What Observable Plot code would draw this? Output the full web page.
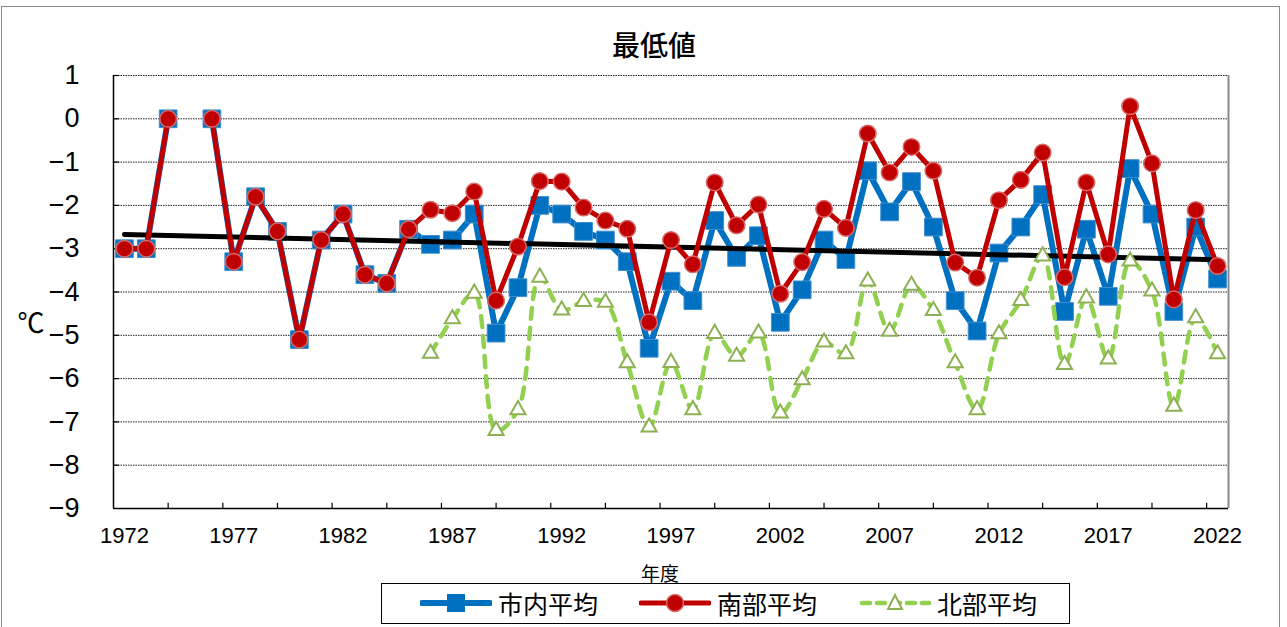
<!DOCTYPE html>
<html><head><meta charset="utf-8">
<script src="https://cdn.jsdelivr.net/npm/d3@7"></script>
<script src="https://cdn.jsdelivr.net/npm/@observablehq/plot@0.6"></script>
<style>
  html,body{margin:0;padding:0;background:#fff;}
  #wrap{position:relative;width:1287px;height:627px;overflow:hidden;font-family:"Noto Sans CJK JP","Liberation Sans",sans-serif;}
  #frame{position:absolute;left:1px;top:6px;width:1279px;height:700px;border:1.5px solid #8a8a8a;box-sizing:border-box;}
  #plot{position:absolute;left:0;top:0;}
  .abs{position:absolute;white-space:nowrap;color:#000;}
  #title{left:654px;top:44px;transform:translate(-50%,-50%);font-size:28px;font-weight:500;}
  #ylab{left:31px;top:321px;transform:translate(-50%,-50%);font-size:27px;font-family:"Noto Sans CJK JP",sans-serif;}
  #xlab{left:660px;top:572px;transform:translate(-50%,-50%);font-size:19px;}
  #legend{left:381px;top:583px;width:689px;height:41px;border:1.5px solid #000;box-sizing:border-box;display:flex;align-items:center;}
  .item{position:absolute;top:0;height:38px;display:flex;align-items:center;font-size:25px;}
  .item svg{margin-right:6px;}
</style></head>
<body>
<div id="wrap">
  <div id="frame"></div>
  <div id="plot"></div>
  <div id="title" class="abs">最低値</div>
  <div id="ylab" class="abs">℃</div>
  <div id="xlab" class="abs">年度</div>
  <div id="legend" class="abs"></div>
</div>
<script>
// ---- data ----
const years = d3.range(1972, 2023);
const cityAvg = [-3.0,-3.0,0.0,null,0.0,-3.3,-1.8,-2.6,-5.1,-2.8,-2.2,-3.6,-3.8,-2.55,-2.9,-2.8,-2.2,-4.95,-3.9,-2.0,-2.2,-2.6,-2.8,-3.3,-5.3,-3.75,-4.2,-2.35,-3.2,-2.7,-4.7,-3.95,-2.8,-3.25,-1.2,-2.15,-1.45,-2.5,-4.2,-4.9,-3.1,-2.5,-1.75,-4.45,-2.55,-4.1,-1.15,-2.2,-4.45,-2.5,-3.7];
const southAvg = [-3.0,-3.0,0.0,null,0.0,-3.3,-1.8,-2.6,-5.1,-2.8,-2.2,-3.6,-3.8,-2.55,-2.1,-2.18,-1.68,-4.2,-2.95,-1.44,-1.45,-2.05,-2.35,-2.54,-4.7,-2.8,-3.36,-1.47,-2.46,-1.98,-4.04,-3.31,-2.08,-2.52,-0.34,-1.24,-0.65,-1.2,-3.32,-3.67,-1.88,-1.41,-0.78,-3.66,-1.47,-3.13,0.29,-1.03,-4.17,-2.11,-3.4];
const northAvg = [null,null,null,null,null,null,null,null,null,null,null,null,null,null,-5.42,-4.62,-4.03,-7.2,-6.72,-3.66,-4.42,-4.22,-4.24,-5.64,-7.12,-5.63,-6.72,-4.96,-5.49,-4.95,-6.8,-6.03,-5.16,-5.43,-3.75,-4.91,-3.85,-4.43,-5.64,-6.72,-4.97,-4.2,-3.17,-5.68,-4.14,-5.55,-3.29,-3.98,-6.64,-4.6,-5.43];
const seriesNames = ["市内平均","南部平均","北部平均"];
const xTickLabels = [1972,1977,1982,1987,1992,1997,2002,2007,2012,2017,2022];
const yTickValues = [1,0,-1,-2,-3,-4,-5,-6,-7,-8,-9];

// ---- styles ----
const C_BLUE = "#0070C0", C_RED = "#C00000", C_GREEN = "#92D050", C_GREEN_EDGE = "#8DB152";

const city = years.map((y,i)=>({year:y, v:cityAvg[i]}));
const south = years.map((y,i)=>({year:y, v:southAvg[i]}));
const north = years.map((y,i)=>({year:y, v:northAvg[i]}));
const cityDef = city.filter(d=>d.v!=null);
const southDef = south.filter(d=>d.v!=null);
const northDef = north.filter(d=>d.v!=null);

const xMin = 1971.5, xMax = 2022.5;
const xMinorTicks = d3.range(xMin + 2.5, xMax, 2.5);

const chart = Plot.plot({
  width: 1287, height: 627,
  marginLeft: 113, marginRight: 59, marginTop: 75, marginBottom: 119,
  style: {fontFamily: "'Liberation Sans', Arial, sans-serif", background: "transparent", overflow: "visible"},
  x: {domain: [xMin, xMax]},
  y: {domain: [-9, 1]},
  marks: [
    Plot.ruleY(yTickValues.filter(v=>v>-9), {y: d=>d, stroke: "#222", strokeWidth: 1, strokeDasharray: "1.5,1"}),
    Plot.ruleX([xMax], {stroke: "#8a8a8a", strokeWidth: 2}),
    Plot.axisY({ticks: yTickValues, tickSize: 0, tickPadding: 34, fontSize: 27, tickFormat: d=>d3.format("")(d).replace("-","−"), label: null}),
    Plot.axisX({ticks: xTickLabels, tickSize: 0, tickPadding: 19, fontSize: 22, tickFormat: d=>String(d), label: null}),
    Plot.ruleX(xMinorTicks, {x: d=>d, y1: -9, y2: -8.88, stroke: "#000", strokeWidth: 1.2}),
    Plot.ruleY(yTickValues.filter(v=>v>-9), {y: d=>d, x1: xMin, x2: xMin + 0.27, stroke: "#000", strokeWidth: 1.2}),
    Plot.ruleX([xMin], {stroke: "#000", strokeWidth: 1.5}),
    Plot.ruleY([-9], {stroke: "#000", strokeWidth: 1.5}),
    // 市内平均
    Plot.line(city, {x: "year", y: "v", stroke: C_BLUE, strokeWidth: 6}),
    Plot.dot(cityDef, {x: "year", y: "v", symbol: "square", r: 10, fill: C_BLUE, stroke: "#3f8fd0", strokeWidth: 1}),
    // trend
    Plot.linearRegressionY(cityDef, {x: "year", y: "v", ci: 0, stroke: "#000", strokeWidth: 5}),
    // 南部平均
    Plot.line(south, {x: "year", y: "v", stroke: C_RED, strokeWidth: 5}),
    Plot.dot(southDef, {x: "year", y: "v", r: 8.3, fill: C_RED, stroke: "#d66a6a", strokeWidth: 1.5}),
    // 北部平均
    Plot.line(northDef, {x: "year", y: "v", stroke: C_GREEN, strokeWidth: 4.5, strokeDasharray: "11,9", curve: "catmull-rom"}),
    Plot.dot(northDef, {x: "year", y: "v", symbol: "triangle", r: 5.6, fill: "#fff", stroke: C_GREEN_EDGE, strokeWidth: 2})
  ]
});
document.getElementById("plot").appendChild(chart);

// ---- legend ----
const legend = document.getElementById("legend");
const legendItems = [
  {name: seriesNames[0], left: 38, svg: `<svg width="72" height="24"><line x1="2" y1="12" x2="70" y2="12" stroke="${C_BLUE}" stroke-width="6" stroke-linecap="round"/><rect x="27" y="3" width="18" height="18" fill="${C_BLUE}"/></svg>`},
  {name: seriesNames[1], left: 257, svg: `<svg width="72" height="24"><line x1="2" y1="12" x2="70" y2="12" stroke="${C_RED}" stroke-width="5" stroke-linecap="round"/><circle cx="36" cy="12" r="8.5" fill="${C_RED}" stroke="#d66a6a" stroke-width="1.5"/></svg>`},
  {name: seriesNames[2], left: 477, svg: `<svg width="72" height="24"><line x1="3" y1="12" x2="70" y2="12" stroke="${C_GREEN}" stroke-width="4.5" stroke-dasharray="8,7" stroke-linecap="round"/><polygon points="36,4 43,18 29,18" fill="#fff" stroke="${C_GREEN_EDGE}" stroke-width="2"/></svg>`}
];
for (const it of legendItems) {
  const d = document.createElement("div");
  d.className = "item";
  d.style.left = it.left + "px";
  d.innerHTML = it.svg + `<span>${it.name}</span>`;
  legend.appendChild(d);
}
</script>
</body></html>
